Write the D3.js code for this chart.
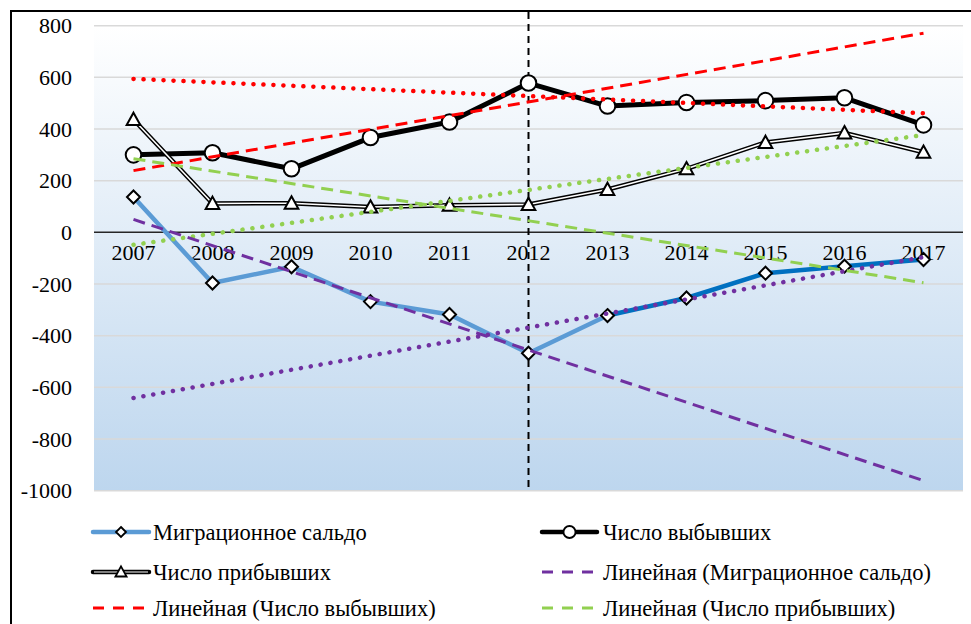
<!DOCTYPE html>
<html><head><meta charset="utf-8">
<script src="https://cdn.jsdelivr.net/npm/d3@7"></script>
<style>
html,body{margin:0;padding:0;background:#fff;}
svg{display:block;}
text{font-family:"Liberation Serif","Times New Roman",serif !important;fill:#000;}
</style></head>
<body><svg id="c" width="971" height="624"></svg>
<script>
const years = [2007,2008,2009,2010,2011,2012,2013,2014,2015,2016,2017];
const saldo    = [137,-196,-133,-268,-318,-468,-322,-254,-158,-131,-105];
const departed = [300,308,246,367,427,578,489,503,510,521,416];
const arrived  = [437,112,113,98,105,108,166,246,348,385,310];
const yTicks = [800,600,400,200,0,-200,-400,-600,-800,-1000];
// trend lines: [value at first year, value at last year]
const trendDepDashed = [239, 771];
const trendDepDotted = [594, 461];
const trendArrDashed = [285, -195];
const trendArrDotted = [-48, 377];
const trendSalDashed = [50, -961];
const trendSalDotted = [-641, -96];
const markerYear = 2012;
const legendLabels = ["Миграционное сальдо","Число выбывших","Число прибывших",
  "Линейная (Миграционное сальдо)","Линейная (Число выбывших)","Линейная (Число прибывших)"];

const svg = d3.select("#c");
const L=94, R=963, T=25.7, B=490.7;
const x = d3.scaleBand().domain(years).range([L,R]);
const xc = d => x(d)+x.bandwidth()/2;
const y = d3.scaleLinear().domain([-1000,800]).range([B,T]);

// frame
svg.append("path").attr("d",`M11,624 L11,11 L971,11`).attr("fill","none").attr("stroke","#000").attr("stroke-width",2);

// gradient
const defs = svg.append("defs");
const g = defs.append("linearGradient").attr("id","bg").attr("x1",0).attr("y1",0).attr("x2",0).attr("y2",1);
g.append("stop").attr("offset","0%").attr("stop-color","#ffffff");
g.append("stop").attr("offset","100%").attr("stop-color","#bdd6ee");
svg.append("rect").attr("x",L).attr("y",T).attr("width",R-L).attr("height",B-T).attr("fill","url(#bg)");

// grid
svg.append("g").selectAll("line").data(yTicks.filter(v=>v!==0)).join("line")
  .attr("x1",L).attr("x2",R).attr("y1",d=>y(d)).attr("y2",d=>y(d))
  .attr("stroke","#d9d9d9").attr("stroke-width",1.5);

// y axis labels
const yAxis = d3.axisLeft(y).tickValues(yTicks).tickSize(0).tickPadding(0).tickFormat(d=>String(d));
const ya = svg.append("g").attr("transform",`translate(72,0)`).call(yAxis);
ya.attr("font-family",null).attr("font-size",null);
ya.select(".domain").remove();
ya.selectAll("text").style("font-size","22px").style("font-family","'Liberation Serif',serif").attr("fill","#000");

// zero line
svg.append("line").attr("x1",L).attr("x2",R).attr("y1",y(0)).attr("y2",y(0)).attr("stroke","#262626").attr("stroke-width",1.5);

// x axis labels
const xAxis = d3.axisBottom(x).tickSize(0).tickPadding(0);
const xa = svg.append("g").attr("transform",`translate(0,${y(0)+12})`).call(xAxis);
xa.attr("font-family",null).attr("font-size",null);
xa.select(".domain").remove();
xa.selectAll("text").style("font-size","22px").style("font-family","'Liberation Serif',serif").attr("fill","#000").attr("dy","0.71em");

// vertical dashed line
svg.append("line").attr("x1",xc(markerYear)).attr("x2",xc(markerYear)).attr("y1",12).attr("y2",488)
  .attr("stroke","#000").attr("stroke-width",2).attr("stroke-dasharray","7,5");

const line = d3.line().x(d=>xc(d[0])).y(d=>y(d[1]));

// migration saldo
const sal = years.map((yr,i)=>[yr,saldo[i]]);
const splitIdx = years.indexOf(2013);
svg.append("path").attr("d",line(sal.slice(0,splitIdx+1))).attr("fill","none").attr("stroke","#5b9bd5").attr("stroke-width",4.5).attr("stroke-linejoin","round");
svg.append("path").attr("d",line(sal.slice(splitIdx))).attr("fill","none").attr("stroke","#0070c0").attr("stroke-width",4.5).attr("stroke-linejoin","round");

// departed
const dep = years.map((yr,i)=>[yr,departed[i]]);
svg.append("path").attr("d",line(dep)).attr("fill","none").attr("stroke","#000").attr("stroke-width",5).attr("stroke-linejoin","round");

// arrived (double line)
const arr = years.map((yr,i)=>[yr,arrived[i]]);
svg.append("path").attr("d",line(arr)).attr("fill","none").attr("stroke","#000").attr("stroke-width",4.5).attr("stroke-linejoin","round");
svg.append("path").attr("d",line(arr)).attr("fill","none").attr("stroke","#fff").attr("stroke-width",1.6).attr("stroke-linejoin","round");

// markers
const diamond = (cx,cy,r)=>`M${cx},${cy-r}L${cx+r},${cy}L${cx},${cy+r}L${cx-r},${cy}Z`;
const tri = (cx,cy,s)=>`M${cx},${cy-s*0.62}L${cx+s*0.62},${cy+s*0.5}L${cx-s*0.62},${cy+s*0.5}Z`;
svg.append("g").selectAll("path").data(sal).join("path")
  .attr("d",d=>diamond(xc(d[0]),y(d[1]),6.5)).attr("fill","#fff").attr("stroke","#000").attr("stroke-width",2);
svg.append("g").selectAll("circle").data(dep).join("circle")
  .attr("cx",d=>xc(d[0])).attr("cy",d=>y(d[1])).attr("r",7.8).attr("fill","#fff").attr("stroke","#000").attr("stroke-width",2);
svg.append("g").selectAll("path").data(arr).join("path")
  .attr("d",d=>tri(xc(d[0]),y(d[1]),11)).attr("fill","#fff").attr("stroke","#000").attr("stroke-width",2).attr("stroke-linejoin","miter");

// trend lines
const first = years[0], last = years[years.length-1];
function trend(vals,color,dotted){
  const p = svg.append("path").attr("d",line([[first,vals[0]],[last,vals[1]]])).attr("fill","none").attr("stroke",color);
  if(dotted) p.attr("stroke-width",4.5).attr("stroke-linecap","round").attr("stroke-dasharray","0.1,9.9");
  else p.attr("stroke-width",3).attr("stroke-dasharray","12,7");
}
trend(trendDepDotted,"#ff0000",true);
trend(trendArrDotted,"#92d050",true);
trend(trendSalDotted,"#7030a0",true);
trend(trendDepDashed,"#ff0000",false);
trend(trendArrDashed,"#92d050",false);
trend(trendSalDashed,"#7030a0",false);

// legend
const lg = svg.append("g");
const rows=[532,572,608], cols=[[93,149,153],[542,597,603]];
function legText(cx,cy,t){lg.append("text").attr("x",cx).attr("y",cy).attr("dy","0.35em").style("font-size","22.5px").text(t);}
// saldo
{const [a,b,t]=cols[0], yy=rows[0];
 lg.append("line").attr("x1",a).attr("x2",b).attr("y1",yy).attr("y2",yy).attr("stroke","#5b9bd5").attr("stroke-width",4.5).attr("stroke-linecap","round");
 lg.append("path").attr("d",diamond((a+b)/2,yy,5)).attr("fill","#fff").attr("stroke","#000").attr("stroke-width",1.8);
 legText(t,yy,legendLabels[0]);}
// departed
{const [a,b,t]=cols[1], yy=rows[0];
 lg.append("line").attr("x1",a).attr("x2",b).attr("y1",yy).attr("y2",yy).attr("stroke","#000").attr("stroke-width",4.5).attr("stroke-linecap","round");
 lg.append("circle").attr("cx",(a+b)/2).attr("cy",yy).attr("r",6).attr("fill","#fff").attr("stroke","#000").attr("stroke-width",1.8);
 legText(t,yy,legendLabels[1]);}
// arrived
{const [a,b,t]=cols[0], yy=rows[1];
 lg.append("line").attr("x1",a).attr("x2",b).attr("y1",yy).attr("y2",yy).attr("stroke","#000").attr("stroke-width",4.5).attr("stroke-linecap","round");
 lg.append("line").attr("x1",a+1).attr("x2",b-1).attr("y1",yy).attr("y2",yy).attr("stroke","#aaa").attr("stroke-width",1.6);
 lg.append("path").attr("d",tri((a+b)/2,yy,9)).attr("fill","#fff").attr("stroke","#000").attr("stroke-width",1.8);
 legText(t,yy,legendLabels[2]);}
function legDash(col,row,color,label){
  const [a,b,t]=cols[col], yy=rows[row];
  lg.append("line").attr("x1",a).attr("x2",b).attr("y1",yy).attr("y2",yy).attr("stroke",color).attr("stroke-width",3).attr("stroke-dasharray","11,9");
  legText(t,yy,label);
}
legDash(1,1,"#7030a0",legendLabels[3]);
legDash(0,2,"#ff0000",legendLabels[4]);
legDash(1,2,"#92d050",legendLabels[5]);
</script></body></html>
